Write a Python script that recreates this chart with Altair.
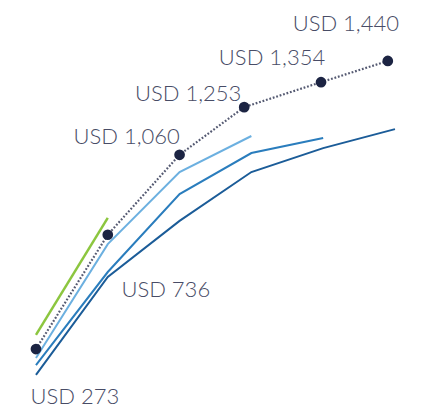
import altair as alt
import pandas as pd

# Data
dot_x = [0, 1, 2, 2.9, 3.97, 4.9]
dot_values = [273, 736, 1060, 1253, 1354, 1440]
dot_labels = ["USD 273", "USD 736", "USD 1,060", "USD 1,253", "USD 1,354", "USD 1,440"]

green_x = [0, 1]
green_values = [330, 804]

light_x = [0, 1, 2, 3]
light_values = [237, 698, 990, 1136]

medium_x = [0, 1, 2, 3, 4]
medium_values = [208, 585, 901, 1067, 1128]

dark_x = [0, 1, 2, 3, 4, 5]
dark_values = [168, 565, 792, 990, 1087, 1164]

rows = []
for name, xs, vs in [("green", green_x, green_values), ("light", light_x, light_values),
                     ("medium", medium_x, medium_values), ("dark", dark_x, dark_values)]:
    for xv, vv in zip(xs, vs):
        rows.append({"series": name, "x": xv, "v": vv})
lines_df = pd.DataFrame(rows)
dots_df = pd.DataFrame({"x": dot_x, "v": dot_values, "label": dot_labels})

xs = alt.Scale(domain=[-0.501, 5.432], nice=False, zero=False)
ys = alt.Scale(domain=[26, 1687], nice=False, zero=False)

colors = {"dark": "#1b5c98", "medium": "#2a7dbd", "light": "#6cb0e0", "green": "#8cc63f"}

X = alt.X("x:Q", scale=xs, axis=None)
Y = alt.Y("v:Q", scale=ys, axis=None)

layers = []
for name in ["dark", "medium", "light"]:
    layers.append(
        alt.Chart(lines_df[lines_df.series == name]).mark_line(
            color=colors[name], strokeWidth=2
        ).encode(x=X, y=Y)
    )

layers.append(
    alt.Chart(dots_df).mark_line(
        color="#555a72", strokeWidth=2.2, strokeDash=[1.8, 1.8]
    ).encode(x=X, y=Y)
)

layers.append(
    alt.Chart(lines_df[lines_df.series == "green"]).mark_line(
        color=colors["green"], strokeWidth=2.5
    ).encode(x=X, y=Y)
)

layers.append(
    alt.Chart(dots_df).mark_point(
        filled=True, color="#1c2443", size=115, opacity=1
    ).encode(x=X, y=Y)
)

# label offsets (style, not data)
offsets = [(39, 48), (58, 55), (-53, -18), (-56, -13), (-49, -24), (-42, -37)]
for i, (dx, dy) in enumerate(offsets):
    layers.append(
        alt.Chart(dots_df.iloc[[i]]).mark_text(
            dx=dx, dy=dy, font="Lato", fontSize=22, fontWeight=300,
            color="#484c66", align="center", baseline="middle"
        ).encode(x=X, y=Y, text="label:N")
    )

chart = alt.layer(*layers).properties(
    width=426, height=410,
    autosize=alt.AutoSizeParams(type="fit", contains="padding"),
    padding=0,
).configure_view(stroke=None)

chart.save("out.html", embed_options={"renderer": "svg", "actions": False})
